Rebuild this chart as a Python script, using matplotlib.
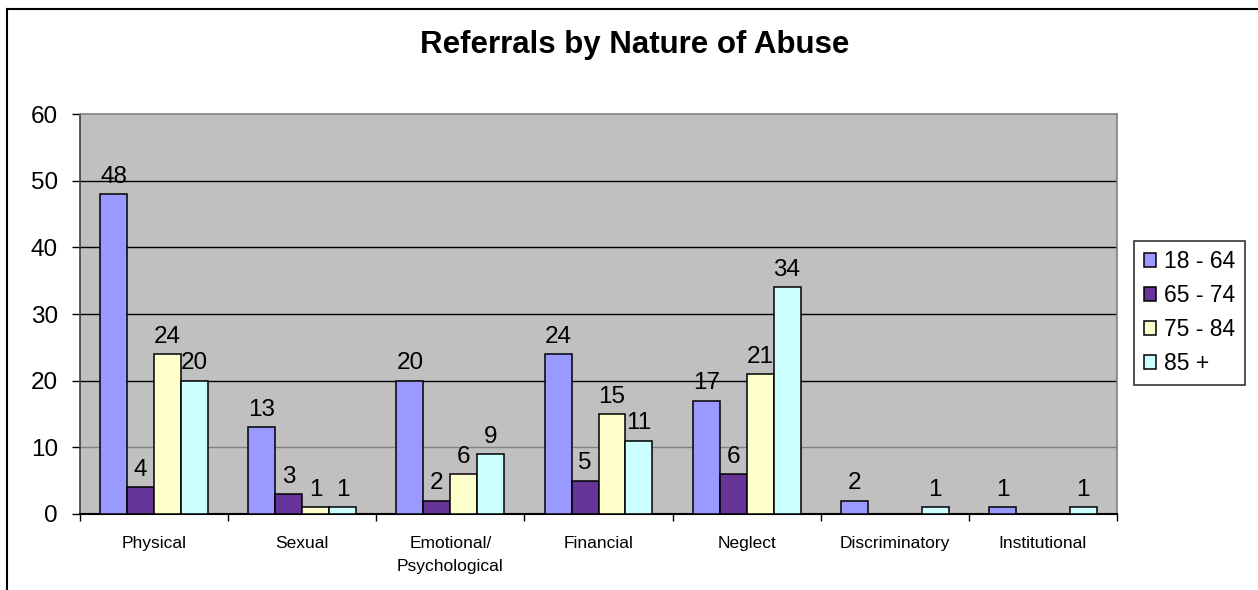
import matplotlib
matplotlib.use("Agg")
import matplotlib.pyplot as plt
from matplotlib.lines import Line2D
import numpy as np

plt.rcParams['font.family'] = ['Liberation Sans', 'DejaVu Sans']

categories = ["Physical", "Sexual", "Emotional/\nPsychological", "Financial",
              "Neglect", "Discriminatory", "Institutional"]
series_names = ["18 - 64", "65 - 74", "75 - 84", "85 +"]
age_18_64 = [48, 13, 20, 24, 17, 2, 1]
age_65_74 = [4, 3, 2, 5, 6, 0, 0]
age_75_84 = [24, 1, 6, 15, 21, 0, 0]
age_85_plus = [20, 1, 9, 11, 34, 1, 1]
yticks = [0, 10, 20, 30, 40, 50, 60]

series = [age_18_64, age_65_74, age_75_84, age_85_plus]
colors = ["#9999FF", "#663399", "#FFFFCC", "#CCFFFF"]

W, H = 1258, 590
fig = plt.figure(figsize=(W / 100, H / 100), dpi=100)
fig.patch.set_facecolor("white")

ax = fig.add_axes([80 / W, 1 - 514 / H, (1117 - 80) / W, (514 - 114) / H])
ax.set_facecolor("#C0C0C0")

n = len(categories)
x = np.arange(n)
bw = 1 / 5.5
offsets = (np.arange(4) - 1.5) * bw

bars_all = []
for vals, col, off, name in zip(series, colors, offsets, series_names):
    b = ax.bar(x + off, vals, width=bw, color=col, edgecolor="black",
               linewidth=1.1, label=name, zorder=3)
    bars_all.append((b, vals))

for b, vals in bars_all:
    for rect, v in zip(b, vals):
        if v == 0:
            continue
        ax.annotate(str(v), (rect.get_x() + rect.get_width() / 2, v),
                    xytext=(0, 4.5), textcoords="offset points",
                    ha="center", va="bottom", fontsize=17.5, zorder=4)

ax.set_xlim(-0.5, n - 0.5)
ax.set_ylim(0, 60)
ax.set_yticks(yticks)
ax.set_yticklabels([str(t) for t in yticks], fontsize=17.5)
ax.tick_params(axis="y", direction="out", length=6, width=1, pad=10, color="black")

# gridlines
for t in yticks[1:-1]:
    ax.axhline(t, color="#808080" if t == 10 else "black", linewidth=1, zorder=1)

ax.set_xticks(x)
ax.set_xticklabels(categories, fontsize=12.5, linespacing=1.65)
ax.tick_params(axis="x", length=0, pad=16)
ax.set_xticks(np.arange(n + 1) - 0.5, minor=True)
ax.tick_params(axis="x", which="minor", direction="out", length=5, width=1)

for side in ["top", "right"]:
    ax.spines[side].set_color("#808080")
    ax.spines[side].set_linewidth(1.2)
ax.spines["left"].set_color("#404040")
ax.spines["left"].set_linewidth(1.2)
ax.spines["bottom"].set_color("black")
ax.spines["bottom"].set_linewidth(1.5)

fig.text(635 / W, 1 - 45 / H, "Referrals by Nature of Abuse", ha="center",
         va="center", fontsize=22.5, fontweight="bold")

leg = fig.legend(loc="center left", bbox_to_anchor=(1134 / W, 1 - 313 / H),
                 fontsize=16.5, frameon=True, fancybox=False, shadow=False,
                 handlelength=0.55, handleheight=0.55, handletextpad=0.35,
                 labelspacing=0.48, borderpad=0.42, borderaxespad=0)
leg.get_frame().set_edgecolor("black")
leg.get_frame().set_linewidth(1.2)

# outer chart border
fig.add_artist(Line2D([7 / W, 1.0], [1 - 9 / H, 1 - 9 / H], color="black",
                      linewidth=1.5, transform=fig.transFigure))
fig.add_artist(Line2D([7 / W, 7 / W], [0, 1 - 9 / H], color="black",
                      linewidth=1.5, transform=fig.transFigure))

fig.savefig("out.png", dpi=100)
